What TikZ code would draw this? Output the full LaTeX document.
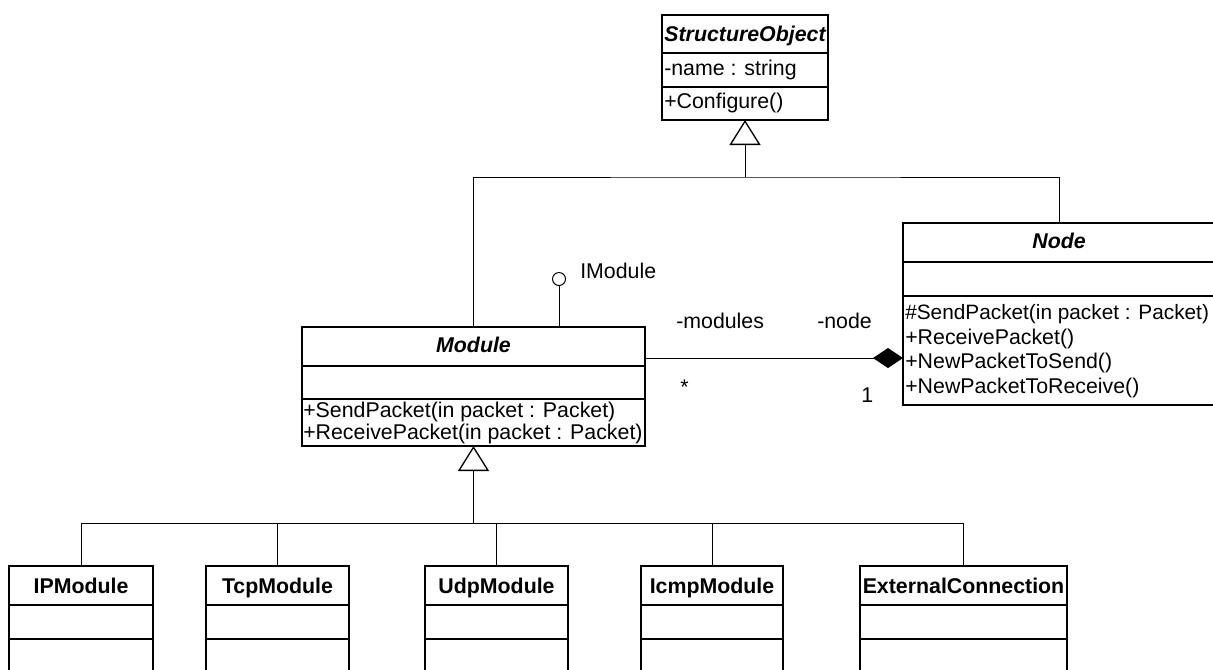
\documentclass[tikz,border=0pt]{standalone}
\usepackage{fontspec}
\setmainfont{Liberation Sans}
\usetikzlibrary{arrows.meta,calc,fit}
\begin{document}
\begin{tikzpicture}[x=0.75pt,y=-0.75pt,
  font=\fontsize{16}{19}\selectfont,
  cls/.style={draw, line width=1.5pt, inner sep=0pt, outer sep=0pt},
  divline/.style={line width=1.5pt},
  conn/.style={line width=0.75pt},
  txt/.style={inner sep=0pt, anchor=base west},
  ttl/.style={inner sep=0pt, anchor=base, font=\fontsize{16}{19}\selectfont\bfseries},
  attl/.style={inner sep=0pt, anchor=base, font=\fontsize{16}{19}\selectfont\bfseries\itshape},
  gen/.style={conn, -{Triangle[open, length=18.75pt, width=23.25pt, line width=1pt]}},
  comp/.style={conn, -{Diamond[length=22.5pt, width=15pt]}}
]
\clip (0,0) rectangle (1213,669);
\fill[white] (0,0) rectangle (1213,669);

% StructureObject
\node[cls, fit={(662,15) (828,120)}] (so) {};
\draw[divline] (so.west |- 0,53) -- (so.east |- 0,53);
\draw[divline] (so.west |- 0,87) -- (so.east |- 0,87);
\node[attl] (soT) at (745,41) {StructureObject};
\node[txt] (soA) at (664,75) {-name : string};
\node[txt] (soO) at (664,108) {+Configure()};

% Module
\node[cls, fit={(302,327) (645,446)}] (mod) {};
\draw[divline] (mod.west |- 0,366) -- (mod.east |- 0,366);
\draw[divline] (mod.west |- 0,399) -- (mod.east |- 0,399);
\node[attl] (modT) at (473.5,352) {Module};
\node[txt] (modO1) at (303,417) {+SendPacket(in packet : Packet)};
\node[txt] (modO2) at (303,439) {+ReceivePacket(in packet : Packet)};

% Node
\node[cls, fit={(903,223) (1216,405)}] (nd) {};
\draw[divline] (nd.west |- 0,262) -- (nd.east |- 0,262);
\draw[divline] (nd.west |- 0,296) -- (nd.east |- 0,296);
\node[attl] (ndT) at (1059,248) {Node};
\node[txt, font=\fontsize{15.6}{19}\selectfont] (ndO1) at (905,319) {\#SendPacket(in packet : Packet)};
\node[txt] (ndO2) at (905,344) {+ReceivePacket()};
\node[txt] (ndO3) at (905,368) {+NewPacketToSend()};
\node[txt] (ndO4) at (905,393) {+NewPacketToReceive()};

% subclasses
\foreach \nm/\xa/\xb/\lbl in {ip/9/153/IPModule, tcp/206/349/TcpModule, udp/425/568/UdpModule, icmp/641/783/IcmpModule, ext/860/1067/ExternalConnection}{
  \node[cls, fit={(\xa,566) (\xb,680)}] (\nm) {};
  \draw[divline] (\nm.west |- 0,605) -- (\nm.east |- 0,605);
  \draw[divline] (\nm.west |- 0,639) -- (\nm.east |- 0,639);
  \node[ttl] (\nm T) at ({(\xa+\xb)/2},593) {\lbl};
}

% generalization to StructureObject
\coordinate (j1) at (745,177);
\draw[gen] (j1) -- (so.south);
\draw[conn] (mod.north) |- (j1) -| (nd.north);

% generalization to Module
\coordinate (j2) at (473.5,523);
\draw[gen] (j2) -- (mod.south);
\foreach \nm in {ip,tcp,udp,icmp,ext}{
  \draw[conn] (\nm.north) |- (j2);
}

% interface lollipop
\node[draw, circle, conn, minimum size=9.75pt, inner sep=0pt, outer sep=0pt] (iface) at (559,279) {};
\draw[conn] (iface.south) -- (iface.south |- mod.north);
\node[txt] (ifaceL) at (580,278) {IModule};

% composition
\draw[comp] ($(mod.north east)+(0,31)$) -- ($(nd.north west)+(0,135)$);
\node[txt] (rl1) at (676,328) {-modules};
\node[txt] (rl2) at (817,328) {-node};
\node[txt] (m1) at (680,394) {*};
\node[txt] (m2) at (861,402) {1};
\end{tikzpicture}
\end{document}
